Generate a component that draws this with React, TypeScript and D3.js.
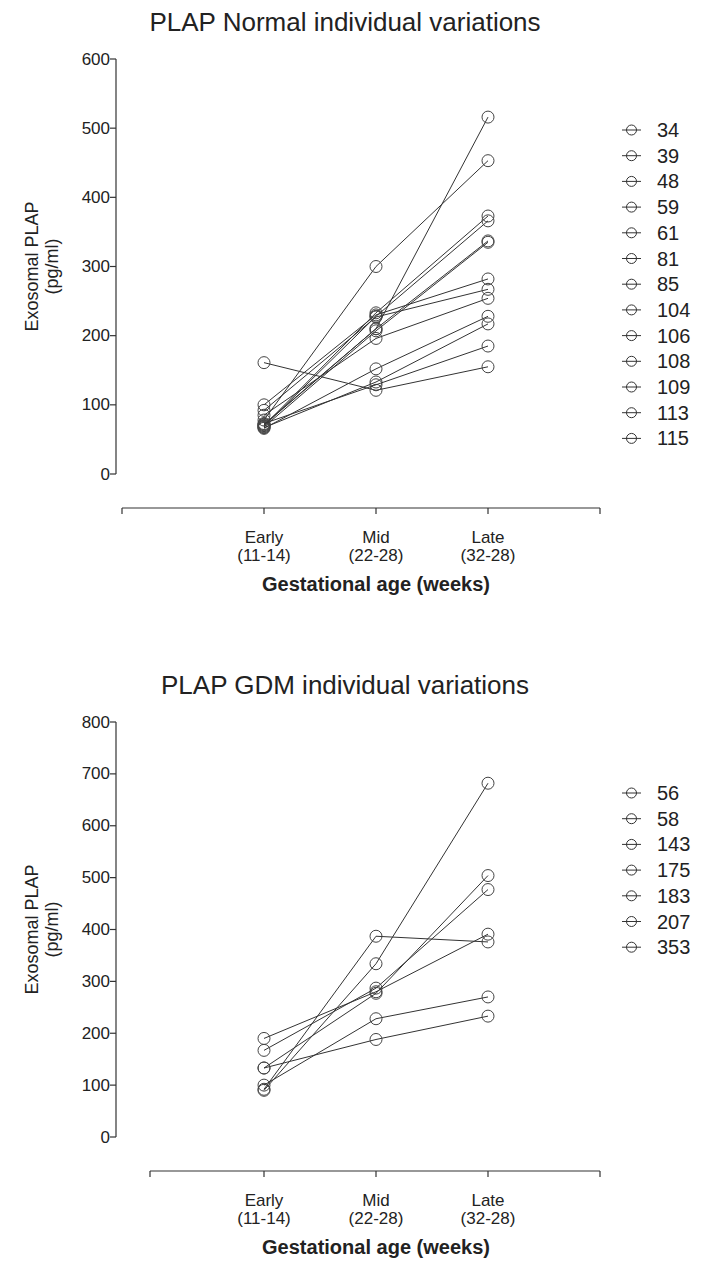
import React, { useEffect, useRef } from 'react'
import * as d3 from 'd3'

// categories on the x axis
const CATEGORIES = ['Early', 'Mid', 'Late']
const CATEGORY_SUBLABELS = ['(11-14)', '(22-28)', '(32-28)']

// normal pregnancies
const NORMAL_IDS = ['34', '39', '48', '59', '61', '81', '85', '104', '106', '108', '109', '113', '115']
const NORMAL_EARLY = [72, 78, 70, 69, 71, 68, 100, 92, 85, 66, 67, 161, 73]
const NORMAL_MID = [210, 300, 233, 228, 210, 207, 230, 227, 196, 152, 133, 121, 129]
const NORMAL_LATE = [516, 453, 373, 366, 337, 335, 282, 267, 254, 228, 217, 155, 185]
const NORMAL_Y_TICKS = [0, 100, 200, 300, 400, 500, 600]

// GDM pregnancies
const GDM_IDS = ['56', '58', '143', '175', '183', '207', '353']
const GDM_EARLY = [90, 92, 133, 190, 167, 133, 100]
const GDM_MID = [334, 387, 188, 280, 287, 277, 228]
const GDM_LATE = [682, 376, 233, 391, 477, 504, 270]
const GDM_Y_TICKS = [0, 100, 200, 300, 400, 500, 600, 700, 800]

const FONT = '"Liberation Sans", Arial, sans-serif'
const INK = '#333'

function drawPanel(root, opts) {
  const { top, title, ids, early, mid, late, yTicks, xStart } = opts
  const g = root.append('g').attr('transform', `translate(0,${top})`)

  const axisX = 116
  const yTop = 59
  const yBottom = 474
  const xAxisY = 508

  const x = d3.scalePoint().domain(CATEGORIES).range([264, 488])
  const y = d3.scaleLinear().domain([0, d3.max(yTicks)]).range([yBottom, yTop])

  g.append('text')
    .attr('x', 345).attr('y', 22)
    .attr('text-anchor', 'middle').attr('dominant-baseline', 'central')
    .style('font-size', '26px').style('font-family', FONT).attr('fill', '#222')
    .text(title)

  // y axis
  g.append('line')
    .attr('x1', axisX).attr('x2', axisX)
    .attr('y1', y(d3.max(yTicks))).attr('y2', y(0))
    .attr('stroke', INK).attr('stroke-width', 1.2)
  g.selectAll('.ytick').data(yTicks).enter().append('line')
    .attr('x1', axisX - 6).attr('x2', axisX)
    .attr('y1', d => y(d)).attr('y2', d => y(d))
    .attr('stroke', INK).attr('stroke-width', 1.2)
  g.selectAll('.ylab').data(yTicks).enter().append('text')
    .attr('x', axisX - 6).attr('y', d => y(d))
    .attr('text-anchor', 'end').attr('dominant-baseline', 'central')
    .style('font-size', '17px').style('font-family', FONT).attr('fill', '#222')
    .text(d => d)

  const ymid = (yTop + yBottom) / 2
  const yt = g.append('text')
    .attr('transform', `translate(32,${ymid}) rotate(-90)`)
    .attr('text-anchor', 'middle')
    .style('font-size', '18px').style('font-family', FONT).attr('fill', '#222')
  yt.append('tspan').attr('x', 0).attr('dy', '0.35em').text('Exosomal PLAP')
  yt.append('tspan').attr('x', 0).attr('dy', 20).text('(pg/ml)')

  // x axis
  g.append('line')
    .attr('x1', xStart).attr('x2', 600)
    .attr('y1', xAxisY).attr('y2', xAxisY)
    .attr('stroke', INK).attr('stroke-width', 1.2)
  const xt = [xStart, ...CATEGORIES.map(c => x(c)), 600]
  g.selectAll('.xtick').data(xt).enter().append('line')
    .attr('x1', d => d).attr('x2', d => d)
    .attr('y1', xAxisY).attr('y2', xAxisY + 6)
    .attr('stroke', INK).attr('stroke-width', 1.2)
  CATEGORIES.forEach((c, i) => {
    g.append('text')
      .attr('x', x(c)).attr('y', 537)
      .attr('text-anchor', 'middle').attr('dominant-baseline', 'central')
      .style('font-size', '17px').style('font-family', FONT).attr('fill', '#222')
      .text(c)
    g.append('text')
      .attr('x', x(c)).attr('y', 555)
      .attr('text-anchor', 'middle').attr('dominant-baseline', 'central')
      .style('font-size', '17px').style('font-family', FONT).attr('fill', '#222')
      .text(CATEGORY_SUBLABELS[i])
  })
  g.append('text')
    .attr('x', x('Mid')).attr('y', 584)
    .attr('text-anchor', 'middle').attr('dominant-baseline', 'central')
    .style('font-size', '20px').style('font-weight', 'bold').style('font-family', FONT).attr('fill', '#222')
    .text('Gestational age (weeks)')

  // subjects
  const rows = ids.map((id, i) => ({ id, vals: [early[i], mid[i], late[i]] }))
  const line = d3.line().x((d, i) => x(CATEGORIES[i])).y(d => y(d))
  rows.forEach(r => {
    g.append('path')
      .attr('d', line(r.vals))
      .attr('fill', 'none').attr('stroke', INK).attr('stroke-width', 1)
    g.selectAll(null).data(r.vals).enter().append('circle')
      .attr('cx', (d, i) => x(CATEGORIES[i])).attr('cy', d => y(d))
      .attr('r', 6).attr('fill', 'none').attr('stroke', '#444').attr('stroke-width', 1)
  })

  // legend
  const leg = g.append('g').attr('transform', 'translate(622,130)')
  ids.forEach((id, i) => {
    const row = leg.append('g').attr('transform', `translate(0,${i * 25.7})`)
    row.append('line').attr('x1', 0).attr('x2', 19).attr('y1', 0).attr('y2', 0)
      .attr('stroke', INK).attr('stroke-width', 1)
    row.append('circle').attr('cx', 9.5).attr('cy', 0).attr('r', 5)
      .attr('fill', 'none').attr('stroke', INK).attr('stroke-width', 1)
    row.append('text').attr('x', 35).attr('y', 0).attr('dominant-baseline', 'central')
      .style('font-size', '20px').style('font-family', FONT).attr('fill', '#222')
      .text(id)
  })
}

export default function App() {
  const ref = useRef(null)

  useEffect(() => {
    const svg = d3.select(ref.current)
    svg.selectAll('*').remove()
    drawPanel(svg, {
      top: 0, title: 'PLAP Normal individual variations',
      ids: NORMAL_IDS, early: NORMAL_EARLY, mid: NORMAL_MID, late: NORMAL_LATE,
      yTicks: NORMAL_Y_TICKS, xStart: 122,
    })
    drawPanel(svg, {
      top: 663, title: 'PLAP GDM individual variations',
      ids: GDM_IDS, early: GDM_EARLY, mid: GDM_MID, late: GDM_LATE,
      yTicks: GDM_Y_TICKS, xStart: 150,
    })
  }, [])

  return (
    <div style={{ position: 'absolute', left: 0, top: 0 }}>
      <svg ref={ref} width={728} height={1271} style={{ display: 'block', background: '#fff' }} />
    </div>
  )
}
